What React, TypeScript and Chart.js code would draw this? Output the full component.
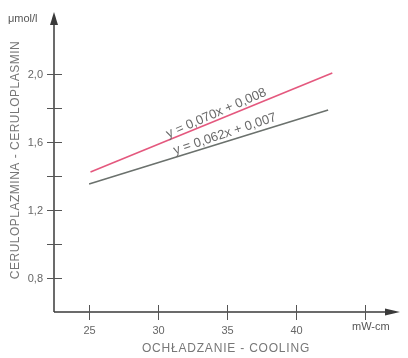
import React, { useEffect, useRef } from "react";
import { Chart, registerables } from "chart.js";

Chart.register(...registerables);

// Data
const pinkX = [25.1, 42.6];
const pinkY = [1.424, 2.006];
const grayX = [25.0, 42.3];
const grayY = [1.353, 1.788];

const yTickValues = [0.8, 1.0, 1.2, 1.4, 1.6, 1.8, 2.0];
const yTickLabels = ["0,8", "", "1,2", "", "1,6", "", "2,0"];
const xTickValues = [25, 30, 35, 40, 45];
const xTickLabels = ["25", "30", "35", "40", ""];

const pinkLabel = "y = 0,070x + 0,008";
const grayLabel = "y = 0,062x + 0,007";
const pinkLabelX = 34.4;
const grayLabelX = 35.0;

const yTitle = "CERULOPLAZMINA - CERULOPLASMIN";
const xTitle = "OCHŁADZANIE - COOLING";
const yUnit = "μmol/l";
const xUnit = "mW-cm";

const FONT = '"Liberation Sans", Arial, sans-serif';

const decorPlugin = {
  id: "decor",
  afterDraw(chart: any) {
    const ctx = chart.ctx as CanvasRenderingContext2D;
    const xs = chart.scales.x;
    const ys = chart.scales.y;
    const ca = chart.chartArea;
    const x0 = ca.left;
    const y0 = ca.bottom;
    ctx.save();
    ctx.strokeStyle = "#3a3a3a";
    ctx.fillStyle = "#3a3a3a";
    ctx.lineWidth = 1.5;
    // y axis
    ctx.beginPath();
    ctx.moveTo(x0, y0);
    ctx.lineTo(x0, ca.top + 6);
    ctx.stroke();
    ctx.beginPath();
    ctx.moveTo(x0, ca.top);
    ctx.lineTo(x0 - 4, ca.top + 13);
    ctx.lineTo(x0 + 4, ca.top + 13);
    ctx.closePath();
    ctx.fill();
    // x axis
    ctx.beginPath();
    ctx.moveTo(x0, y0);
    ctx.lineTo(ca.right - 6, y0);
    ctx.stroke();
    ctx.beginPath();
    ctx.moveTo(ca.right, y0);
    ctx.lineTo(ca.right - 15, y0 - 3.5);
    ctx.lineTo(ca.right - 15, y0 + 3.5);
    ctx.closePath();
    ctx.fill();

    // ticks
    ctx.strokeStyle = "#555";
    ctx.lineWidth = 1;
    ctx.font = `11px ${FONT}`;
    ctx.fillStyle = "#666";
    yTickValues.forEach((v, i) => {
      const py = Math.round(ys.getPixelForValue(v)) + 0.5;
      ctx.beginPath();
      ctx.moveTo(x0 - 7, py);
      ctx.lineTo(x0 + 8, py);
      ctx.stroke();
      if (yTickLabels[i]) {
        ctx.textAlign = "right";
        ctx.textBaseline = "middle";
        ctx.fillText(yTickLabels[i], x0 - 11, py);
      }
    });
    xTickValues.forEach((v, i) => {
      const px = Math.round(xs.getPixelForValue(v)) + 0.5;
      ctx.beginPath();
      ctx.moveTo(px, y0 - 7);
      ctx.lineTo(px, y0 + 8);
      ctx.stroke();
      if (xTickLabels[i]) {
        ctx.textAlign = "center";
        ctx.textBaseline = "middle";
        ctx.fillText(xTickLabels[i], px, y0 + 19);
      }
    });

    // units
    ctx.fillStyle = "#555";
    ctx.textAlign = "left";
    ctx.textBaseline = "middle";
    ctx.fillText(yUnit, 8, 19);
    ctx.fillText(xUnit, 352, 327);

    // titles
    ctx.fillStyle = "#777";
    ctx.font = `12px ${FONT}`;
    ctx.textAlign = "center";
    ctx.textBaseline = "middle";
    (ctx as any).letterSpacing = "0.8px";
    ctx.fillText(xTitle, 226, 349);
    (ctx as any).letterSpacing = "0.5px";
    ctx.save();
    ctx.translate(16, 160);
    ctx.rotate(-Math.PI / 2);
    ctx.fillText(yTitle, 0, 0);
    ctx.restore();
    (ctx as any).letterSpacing = "0px";

    // equation labels
    const drawEq = (lx: number[], ly: number[], text: string, atX: number, off: number) => {
      const p1x = xs.getPixelForValue(lx[0]);
      const p1y = ys.getPixelForValue(ly[0]);
      const p2x = xs.getPixelForValue(lx[1]);
      const p2y = ys.getPixelForValue(ly[1]);
      const ang = Math.atan2(p2y - p1y, p2x - p1x);
      const t = (atX - lx[0]) / (lx[1] - lx[0]);
      const yv = ly[0] + t * (ly[1] - ly[0]);
      const px = xs.getPixelForValue(atX);
      const py = ys.getPixelForValue(yv);
      ctx.save();
      ctx.translate(px, py);
      ctx.rotate(ang - 0.02);
      ctx.fillStyle = "#6a6a6a";
      ctx.font = `13px ${FONT}`;
      ctx.textAlign = "center";
      ctx.textBaseline = "alphabetic";
      ctx.fillText(text, 0, -off);
      ctx.restore();
    };
    drawEq(pinkX, pinkY, pinkLabel, pinkLabelX, 3);
    drawEq(grayX, grayY, grayLabel, grayLabelX, 4);
    ctx.restore();
  },
};

export default function App() {
  const ref = useRef<HTMLCanvasElement>(null);
  useEffect(() => {
    if (!ref.current) return;
    const chart = new Chart(ref.current, {
      type: "line",
      data: {
        datasets: [
          {
            data: pinkX.map((x, i) => ({ x, y: pinkY[i] })),
            borderColor: "#e4587e",
            borderWidth: 1.6,
            pointRadius: 0,
          },
          {
            data: grayX.map((x, i) => ({ x, y: grayY[i] })),
            borderColor: "#6b716d",
            borderWidth: 1.6,
            pointRadius: 0,
          },
        ],
      },
      options: {
        animation: false,
        responsive: false,
        layout: { padding: { left: 54, top: 12, right: 8, bottom: 46 } },
        plugins: { legend: { display: false }, tooltip: { enabled: false } },
        scales: {
          x: { type: "linear", min: 22.46, max: 47.5, display: false },
          y: { type: "linear", min: 0.6, max: 2.365, display: false },
        },
      },
      plugins: [decorPlugin],
    });
    return () => chart.destroy();
  }, []);
  return (
    <div style={{ position: "fixed", left: 0, top: 0, width: 408, height: 358, background: "#fff" }}>
      <canvas ref={ref} width={408} height={358} style={{ width: 408, height: 358 }} />
    </div>
  );
}
